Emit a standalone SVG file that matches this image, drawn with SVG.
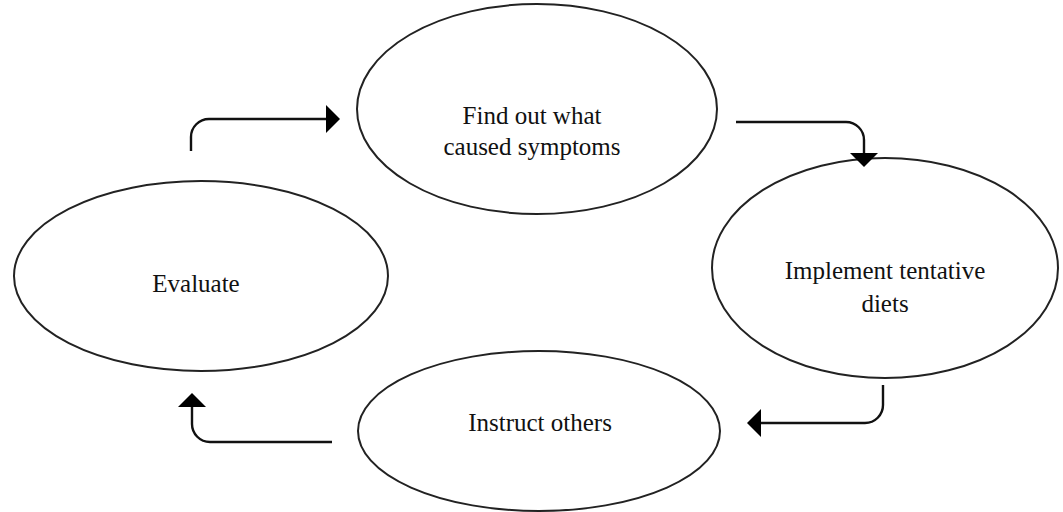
<svg xmlns="http://www.w3.org/2000/svg" width="1063" height="512" viewBox="0 0 1063 512">
<style>
.node ellipse{fill:#fff;stroke:#222;stroke-width:2}
.node text{font-family:"Liberation Serif","Times New Roman",serif;font-size:25px;fill:#111;text-anchor:middle}
.conn path{fill:none;stroke:#111;stroke-width:2.4}
</style>
<defs>
<marker id="ah" viewBox="0 0 14 28" refX="0" refY="14" markerWidth="14" markerHeight="28" markerUnits="userSpaceOnUse" orient="auto">
<path d="M0,0 L14,14 L0,28 Z" fill="#000" stroke="none"/>
</marker>
</defs>
<rect width="1063" height="512" fill="#fff"/>
<g id="node-find" class="node">
<ellipse cx="537" cy="109" rx="180" ry="105"/>
<text x="532" y="124">Find out what</text>
<text x="532" y="155">caused symptoms</text>
</g>
<g id="node-implement" class="node">
<ellipse cx="885" cy="268" rx="173" ry="110"/>
<text x="885" y="279">Implement tentative</text>
<text x="885" y="312">diets</text>
</g>
<g id="node-instruct" class="node">
<ellipse cx="539" cy="431" rx="181" ry="80"/>
<text x="540" y="431">Instruct others</text>
</g>
<g id="node-evaluate" class="node">
<ellipse cx="201" cy="276" rx="187" ry="95"/>
<text x="196" y="292">Evaluate</text>
</g>
<g id="connectors" class="conn">
<path d="M191,151 V137 A18,18 0 0 1 209,119 H326" marker-end="url(#ah)"/>
<path d="M736,122 H846 A18,18 0 0 1 864,140 V153" marker-end="url(#ah)"/>
<path d="M883,385 V405 A18,18 0 0 1 865,423 H761" marker-end="url(#ah)"/>
<path d="M332,442 H210 A18,18 0 0 1 192,424 V407" marker-end="url(#ah)"/>
</g>
</svg>
